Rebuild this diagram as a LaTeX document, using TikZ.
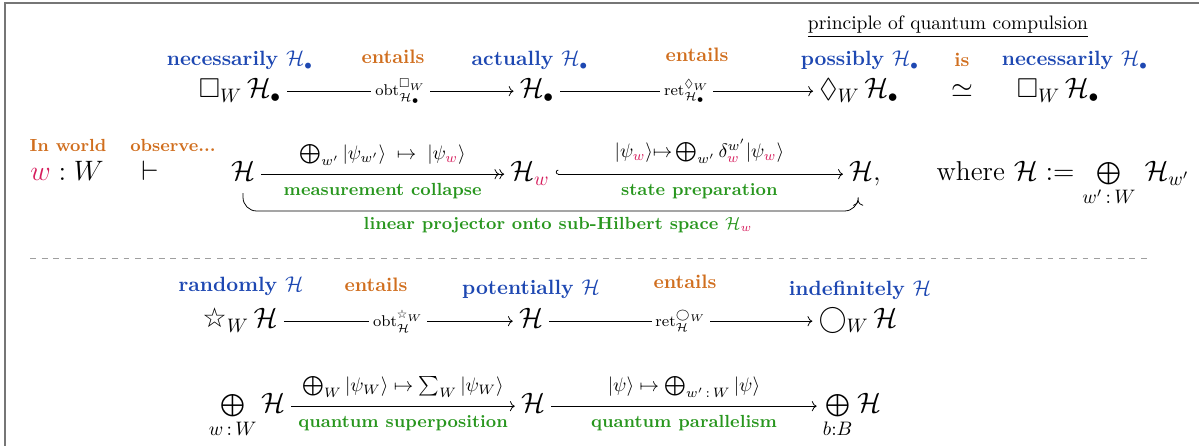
\documentclass[tikz,border=0pt]{standalone}
\usepackage{amsmath,amssymb}
\usepackage{fontspec}
\newfontfamily\starfont{DejaVu Sans}
\usetikzlibrary{arrows.meta}

\definecolor{modalblue}{RGB}{30,72,178}
\definecolor{verborange}{RGB}{208,110,30}
\definecolor{glossgreen}{RGB}{40,150,30}
\definecolor{worldpink}{RGB}{214,28,92}
\definecolor{framegray}{RGB}{118,118,118}

\newcommand{\objfont}{\fontsize{14}{16}\selectfont}
\newcommand{\Hb}{\mathcal{H}_\bullet}
\newcommand{\wsel}{\textcolor{worldpink}{w}}
\newcommand{\wstar}{\text{\starfont ☆}}
\newcommand{\dsum}{\mathop{\raisebox{0.6pt}{\scalebox{0.82}{$\bigoplus$}}}\limits}

\tikzset{
    obj/.style={font=\objfont, anchor=base, inner sep=3pt, text height=10pt, text depth=3pt},
    modal/.style={text=modalblue, font=\fontsize{10.6}{12}\selectfont\bfseries, anchor=base},
    verb/.style={text=verborange, font=\bfseries, anchor=base},
    gloss/.style={text=glossgreen, font=\small\bfseries},
    mid/.style={fill=white, font=\footnotesize, inner sep=2pt},
}

\begin{document}
\begin{tikzpicture}[x=0.513pt, y=-0.513pt]
    \useasboundingbox (0,0) rectangle (1199,446);
    \draw[framegray, line width=1pt] (5,446) -- (5,3) -- (1199,3);

    \node[anchor=base] (pqc) at (948,30) {\underline{principle of quantum compulsion}};
    \node[modal] (lnec) at (240,66) {necessarily $\Hb$};
    \node[verb] (lent1) at (393,64) {entails};
    \node[modal] (lact) at (530,66) {actually $\Hb$};
    \node[verb] (lent2) at (697,62) {entails};
    \node[modal] (lpos) at (860,66) {possibly $\Hb$};
    \node[verb] (lis) at (962,67) {is};
    \node[modal] (lnec2) at (1075,66) {necessarily $\Hb$};

    \node[obj] (nec) at (240,98) {$\Box_W\,\Hb$};
    \node[obj] (act) at (537,98) {$\Hb$};
    \node[obj] (pos) at (859,98) {$\Diamond_W\,\Hb$};
    \node[obj] (eqv) at (962,98) {$\simeq$};
    \node[obj] (nec2) at (1058,98) {$\Box_W\,\Hb$};
    \draw[->] (nec) -- node[mid] {$\mathrm{obt}^{\Box_W}_{\Hb}$} (act);
    \draw[->] (act) -- node[mid] {$\mathrm{ret}^{\Diamond_W}_{\Hb}$} (pos);

    \node[verb, font=\small\bfseries] (lworld) at (68,152) {In world};
    \node[verb, font=\small\bfseries] (lobs) at (173,152) {observe...};
    \node[obj] (world) at (67,181) {$\wsel : W$};
    \node[obj] (turn) at (150,181) {$\vdash$};
    \node[obj] (Hall) at (243,181) {$\mathcal H$};
    \node[obj] (Hw) at (530,181) {$\mathcal H_{\wsel}$};
    \node[obj] (Hback) at (865,181) {$\mathcal H,$};
    \node[obj] (where) at (1063,181) {where $\mathcal H \mathrel{:=} \dsum_{w'\,:\,W}\,\mathcal H_{w'}$};

    \draw[->>] (Hall) -- node[above=1pt] {$\bigoplus_{w'}|\psi_{w'}\rangle \;\mapsto\; |\psi_{\wsel}\rangle$}
        node[below=1pt, gloss] {measurement collapse} (Hw);
    \draw[{Hooks[right]}->] (Hw) -- node[above=2pt] {$|\psi_{\wsel}\rangle{\mapsto}\bigoplus_{w'}\delta^{w'}_{\wsel}|\psi_{\wsel}\rangle$}
        node[below=1pt, gloss] {state preparation} (Hback);

    \coordinate (projbend) at (550,211);
    \draw[->, rounded corners=7pt, shorten >=4pt] (Hall.south) |- (projbend) -| ([xshift=-3.5pt]Hback.south);
    \node[gloss, anchor=base] (proj) at (558,230) {linear projector onto sub-Hilbert space $\mathcal H_{\wsel}$};

    \draw[dashed, framegray!70] (30,258) -- (1150,258);

    \node[modal] (lrand) at (241,292) {randomly $\mathcal H$};
    \node[verb] (lent3) at (376,292) {entails};
    \node[modal] (lpot) at (531,295) {potentially $\mathcal H$};
    \node[verb] (lent4) at (685,289) {entails};
    \node[modal] (lind) at (860,296) {indefinitely $\mathcal H$};

    \node[obj] (rand) at (240,328) {$\wstar_W\,\mathcal H$};
    \node[obj] (pot) at (531,328) {$\mathcal H$};
    \node[obj] (indef) at (858,328) {$\bigcirc_W\,\mathcal H$};
    \draw[->] (rand) -- node[mid] {$\mathrm{obt}^{\wstar_W}_{\mathcal H}$} (pot);
    \draw[->] (pot) -- node[mid] {$\mathrm{ret}^{\bigcirc_W}_{\mathcal H}$} (indef);

    \node[obj] (sup) at (247,413) {$\dsum_{w\,:\,W}\mathcal H$};
    \node[obj] (one) at (533,413) {$\mathcal H$};
    \node[obj] (par) at (852,413) {$\dsum_{b:B}\mathcal H$};
    \draw[->] (sup) -- node[above=1pt] {$\bigoplus_W|\psi_W\rangle\mapsto\sum_W|\psi_W\rangle$}
        node[below=1pt, gloss] {quantum superposition} (one);
    \draw[->] (one) -- node[above=1pt] {$|\psi\rangle\mapsto\bigoplus_{w'\,:\,W}|\psi\rangle$}
        node[below=1pt, gloss] {quantum parallelism} (par);
\end{tikzpicture}
\end{document}
